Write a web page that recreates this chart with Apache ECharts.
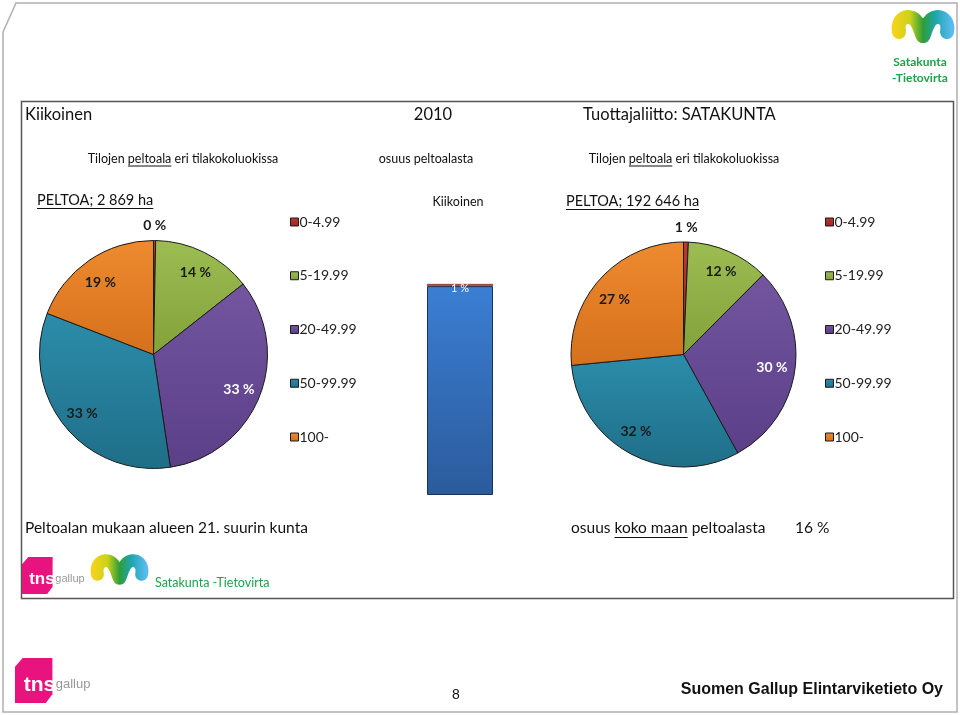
<!DOCTYPE html>
<html>
<head>
<meta charset="utf-8">
<script src="https://cdn.jsdelivr.net/npm/echarts@6/dist/echarts.min.js"></script>
<style>
html,body{margin:0;padding:0;background:#fff;}
#chart{width:960px;height:715px;}
</style>
</head>
<body>
<div id="chart"></div>
<script>
// ---- data ----
const sizeClasses = ['0-4.99', '5-19.99', '20-49.99', '50-99.99', '100-'];
const kiikoinenShare = [0.3, 14, 33, 33, 19];      // % of field area, Kiikoinen
const satakuntaShare = [0.7, 12, 30, 32, 27];      // % of field area, Satakunta region
const barCategories = ['Kiikoinen'];
const restOfRegionShare = [99];
const kiikoinenOfRegionShare = [1];
const titleTexts = ['Kiikoinen', '2010', 'Tuottajaliitto: SATAKUNTA'];
const peltoaTexts = ['PELTOA; 2 869 ha', 'PELTOA; 192 646 ha'];

// ---- styles ----
const FONT = 'Lato, "Open Sans", sans-serif';
const sliceColors = [
  ['#B83A36', '#9A2523'],
  ['#9CBD52', '#82A23A'],
  ['#7355A0', '#5B3F87'],
  ['#2B8DAA', '#1F6E88'],
  ['#EE8A2E', '#D5701C']
];
const labelColors = ['#1a1a1a', '#1a1a1a', '#ffffff', '#1a1a1a', '#1a1a1a'];
// small per-slice label nudges (rich-text padding) to mimic the original placement
const labelPadLeftPie = [[0, 0, 0, 0], [4, 0, 0, 0], [0, 4, 0, 0], [0, 0, 0, 4], [12, 0, 0, 0]];
const labelPadRightPie = [[0, 0, 0, 0], [4, 0, 0, 0], [0, 8, 0, 0], [0, 8, 12, 0], [16, 0, 0, 0]];

function grad(c) {
  return new echarts.graphic.LinearGradient(0, 0, 0, 1, [
    {offset: 0, color: c[0]}, {offset: 1, color: c[1]}
  ]);
}
const meas = document.createElement('canvas').getContext('2d');
function textW(str, font) { meas.font = font; return meas.measureText(str).width; }

function pieData(values) {
  return values.map((v, i) => ({
    name: sizeClasses[i], value: v,
    itemStyle: {color: grad(sliceColors[i]), borderColor: '#1b1b1b', borderWidth: 1}
  }));
}
function labelPieData(values, showIdx, pads) {
  return values.map((v, i) => ({
    name: sizeClasses[i], value: v,
    label: {show: showIdx(i), color: labelColors[i],
      rich: {n: {padding: pads ? pads[i] : 0, color: labelColors[i],
        fontFamily: FONT, fontWeight: 'bold', fontSize: 14}}}
  }));
}
function pieSeries(values, center, r, pads) {
  const base = {
    type: 'pie', center: center, startAngle: 90, clockwise: true,
    avoidLabelOverlap: false, labelLine: {show: false}, emphasis: {disabled: true}
  };
  const lbl = {
    position: 'inside', fontFamily: FONT, fontWeight: 'bold', fontSize: 14,
    formatter: p => '{n|' + Math.round(p.value) + ' %}'
  };
  return [
    Object.assign({}, base, {radius: [0, r], label: {show: false}, data: pieData(values)}),
    Object.assign({}, base, {
      radius: [68, r], silent: true, label: lbl,
      itemStyle: {color: 'rgba(0,0,0,0)', borderWidth: 0},
      data: labelPieData(values, i => i > 0, pads)
    }),
    Object.assign({}, base, {
      radius: [r, r + 24], silent: true, label: lbl,
      itemStyle: {color: 'rgba(0,0,0,0)', borderWidth: 0},
      data: labelPieData(values, i => i === 0)
    })
  ];
}

function legendAt(left) {
  return {
    orient: 'vertical', left: left, top: 215, itemGap: 39.75, padding: 0,
    itemWidth: 8, itemHeight: 8, icon: 'rect', selectedMode: false,
    data: sizeClasses,
    itemStyle: {borderColor: '#1b1b1b', borderWidth: 1},
    textStyle: {fontFamily: FONT, fontSize: 14, color: '#222', lineHeight: 14, padding: [0, 0, 0, -4]}
  };
}

// ---- decorations (text, frames, logos) ----
const g = [];
function txt(x, y, s, size, opts) {
  opts = opts || {};
  const weight = opts.weight || 'normal';
  const family = opts.family || FONT;
  const align = opts.align || 'left';
  g.push({type: 'text', x: x, y: y, z: 10, style: {
    text: s, fill: opts.color || '#111', font: weight + ' ' + size + 'px ' + family,
    textAlign: align, textVerticalAlign: 'middle'}});
}
function underline(x, y, s, size, weight) {
  const w = textW(s, (weight || 'normal') + ' ' + size + 'px ' + FONT);
  g.push({type: 'line', z: 10, shape: {x1: x, y1: y, x2: x + w, y2: y},
    style: {stroke: '#111', lineWidth: 1}});
}
// slide frame
g.push({type: 'polyline', z: 1, shape: {points: [[3, 32], [16, 3], [957, 3], [957, 712], [3, 712], [3, 32]]},
  style: {stroke: '#b0b0b0', lineWidth: 1.5, fill: null}});
// content box
g.push({type: 'rect', z: 1, shape: {x: 21.5, y: 101.5, width: 932, height: 497},
  style: {stroke: '#555', lineWidth: 1.5, fill: null}});

// title row
txt(25, 115, titleTexts[0], 16.5);
txt(433, 115, titleTexts[1], 16.5, {align: 'center'});
txt(583, 115, titleTexts[2], 16.5);

// sub-title row (with underlined "peltoala")
function subTitle(cx, y) {
  const size = 12.5;
  const f = 'normal ' + size + 'px ' + FONT;
  const a = 'Tilojen ', b = 'peltoala', c = ' eri tilakokoluokissa';
  const wa = textW(a, f), wb = textW(b, f), wc = textW(c, f);
  const x0 = cx - (wa + wb + wc) / 2;
  txt(x0, y, a + b + c, size);
  g.push({type: 'line', z: 10, shape: {x1: x0 + wa, y1: y + 7, x2: x0 + wa + wb, y2: y + 7},
    style: {stroke: '#111', lineWidth: 1}});
}
subTitle(183, 159);
txt(426, 159, 'osuus peltoalasta', 12.5, {align: 'center'});
subTitle(684, 159);

// PELTOA headings
txt(37, 200, peltoaTexts[0], 14.5);
underline(37, 208.5, peltoaTexts[0], 14.5);
txt(566, 201, peltoaTexts[1], 14.5);
underline(566, 209.5, peltoaTexts[1], 14.5);
txt(458, 202, 'Kiikoinen', 12.5, {align: 'center'});

// bottom row
txt(25, 528, 'Peltoalan mukaan alueen 21. suurin kunta', 15.5);
(function () {
  const size = 15.5;
  const f = 'normal ' + size + 'px ' + FONT;
  const a = 'osuus ', b = 'koko maan', c = ' peltoalasta';
  const x0 = 571;
  txt(x0, 528, a + b + c, size);
  const wa = textW(a, f), wb = textW(b, f);
  g.push({type: 'line', z: 10, shape: {x1: x0 + wa, y1: 537.5, x2: x0 + wa + wb, y2: 537.5},
    style: {stroke: '#111', lineWidth: 1}});
})();
txt(795, 528, '16 %', 15.5);

// logos
function tnsLogo(x, y, s) {
  g.push({type: 'polygon', z: 5, shape: {points: [
    [x + 7 * s, y], [x + 34 * s, y], [x + 34 * s, y + 33 * s], [x + 28 * s, y + 41 * s],
    [x, y + 41 * s], [x, y + 8 * s]]}, style: {fill: '#E8137E'}});
  g.push({type: 'text', z: 6, x: x + 8 * s, y: y + 25 * s, style: {text: 'tns',
    font: 'bold ' + Math.round(19 * s) + 'px Arial, sans-serif', fill: '#fff', textVerticalAlign: 'middle'}});
  g.push({type: 'text', z: 6, x: x + 37 * s, y: y + 24 * s, style: {text: 'gallup',
    font: 'normal ' + Math.round(12 * s) + 'px Arial, sans-serif', fill: '#999', textVerticalAlign: 'middle'}});
}
function waveLogo(x, y, s) {
  const segs = [
    [7, 20, 4, 4, 20, 0, 26, 12],
    [26, 12, 29, 18, 30, 24, 31, 24],
    [31, 24, 32, 24, 33, 18, 36, 12],
    [36, 12, 42, 0, 58, 4, 55, 20]
  ];
  const stroke = new echarts.graphic.LinearGradient(x + 2 * s, 0, x + 60 * s, 0, [
    {offset: 0, color: '#F6D31A'}, {offset: 0.28, color: '#C9D21C'},
    {offset: 0.5, color: '#2E9E38'}, {offset: 0.72, color: '#1FA6B0'}, {offset: 1, color: '#5BBBF0'}], true);
  segs.forEach(p => {
    g.push({type: 'bezierCurve', z: 5, shape: {
      x1: x + p[0] * s, y1: y + p[1] * s, cpx1: x + p[2] * s, cpy1: y + p[3] * s,
      cpx2: x + p[4] * s, cpy2: y + p[5] * s, x2: x + p[6] * s, y2: y + p[7] * s},
      style: {fill: null, lineWidth: 14 * s, lineCap: 'round', stroke: stroke}});
  });
}
waveLogo(892, 12, 1.0);
txt(920, 62, 'Satakunta', 12, {align: 'center', color: '#1FA24A', weight: 'bold'});
txt(920, 78, '-Tietovirta', 12, {align: 'center', color: '#1FA24A', weight: 'bold'});
tnsLogo(22, 557, 0.9);
waveLogo(91, 556, 0.92);
txt(155, 583, 'Satakunta -Tietovirta', 12.5, {color: '#1FA24A'});
tnsLogo(15, 658, 1.1);
txt(456, 695, '8', 14, {family: 'Arial, "Liberation Sans", sans-serif', align: 'center'});
txt(943, 690, 'Suomen Gallup Elintarviketieto Oy', 16,
  {family: 'Arial, "Liberation Sans", sans-serif', weight: 'bold', align: 'right'});

// ---- chart ----
const chart = echarts.init(document.getElementById('chart'), null, {renderer: 'canvas'});
chart.setOption({
  animation: false,
  backgroundColor: '#fff',
  legend: [legendAt(290), legendAt(825)],
  grid: {left: 427, top: 284, width: 66, height: 211},
  xAxis: {type: 'category', data: barCategories, show: false},
  yAxis: {type: 'value', min: 0, max: 100, show: false},
  series: [
    ...pieSeries(kiikoinenShare, [153.5, 354.5], 114, labelPadLeftPie),
    ...pieSeries(satakuntaShare, [683.5, 354.5], 112.5, labelPadRightPie),
    {
      type: 'bar', stack: 'share', barWidth: '100%', data: restOfRegionShare, silent: true,
      itemStyle: {color: new echarts.graphic.LinearGradient(0, 0, 0, 1, [
        {offset: 0, color: '#3B7ED3'}, {offset: 1, color: '#2B5B9C'}]),
        borderColor: '#1e3350', borderWidth: 1}
    },
    {
      type: 'bar', stack: 'share', barWidth: '100%', data: kiikoinenOfRegionShare, silent: true,
      itemStyle: {color: '#C0302E', borderColor: '#5a2020', borderWidth: 0.5},
      label: {show: true, position: 'inside', offset: [0, 3], color: '#fff', fontFamily: FONT,
        fontSize: 11, formatter: p => p.value + ' %'}
    }
  ],
  graphic: {elements: g}
});
</script>
</body>
</html>
